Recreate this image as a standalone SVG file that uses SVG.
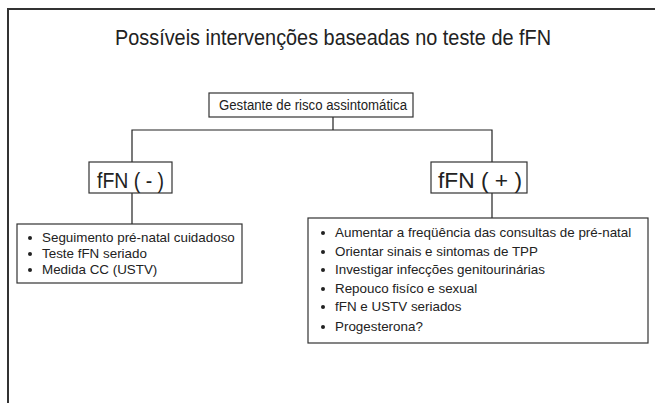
<svg xmlns="http://www.w3.org/2000/svg" width="655" height="403" viewBox="0 0 655 403">
<style>
text{font-family:"Liberation Sans",Arial,sans-serif;fill:#222}
.box{fill:#fff;stroke:#333;stroke-width:1.2}
.ln{fill:none;stroke:#222;stroke-width:1.2}
.it{font-size:13.4px}
.big{font-size:22px}
</style>
<rect width="655" height="403" fill="#fff"/>
<path d="M8,403 V9 H655" fill="none" stroke="#333" stroke-width="2"/>
<text id="title" x="333" y="45" font-size="22" text-anchor="middle" textLength="436" lengthAdjust="spacingAndGlyphs">Possíveis intervenções baseadas no teste de fFN</text>
<g id="connectors">
<path class="ln" d="M333,117 V130 M132,162 V130 H492 V162 M132,193 V224 M492,193 V218"/>
</g>
<g id="root">
<rect class="box" x="209" y="93" width="204" height="24"/>
<text x="219" y="110" font-size="14" textLength="188" lengthAdjust="spacingAndGlyphs">Gestante de risco assintomática</text>
</g>
<g id="neg">
<rect class="box" x="89" y="162" width="83" height="31"/>
<text class="big" x="97" y="188" textLength="67" lengthAdjust="spacingAndGlyphs">fFN ( - )</text>
</g>
<g id="pos">
<rect class="box" x="431" y="162" width="96" height="31"/>
<text class="big" x="438" y="188" textLength="84" lengthAdjust="spacingAndGlyphs">fFN ( + )</text>
</g>
<g id="neg-list">
<rect class="box" x="17" y="224" width="225" height="59"/>
<g fill="#222"><circle cx="30" cy="238" r="2"/><circle cx="30" cy="254" r="2"/><circle cx="30" cy="270" r="2"/></g>
<text class="it" x="42" y="242">Seguimento pré-natal cuidadoso</text>
<text class="it" x="42" y="258">Teste fFN seriado</text>
<text class="it" x="42" y="274">Medida CC (USTV)</text>
</g>
<g id="pos-list">
<rect class="box" x="308" y="218" width="340" height="125"/>
<g fill="#222"><circle cx="323" cy="233" r="2"/><circle cx="323" cy="252" r="2"/><circle cx="323" cy="270" r="2"/><circle cx="323" cy="289" r="2"/><circle cx="323" cy="307" r="2"/><circle cx="323" cy="327" r="2"/></g>
<text class="it" x="335" y="237">Aumentar a freqüência das consultas de pré-natal</text>
<text class="it" x="335" y="256">Orientar sinais e sintomas de TPP</text>
<text class="it" x="335" y="274">Investigar infecções genitourinárias</text>
<text class="it" x="335" y="293">Repouco fisíco e sexual</text>
<text class="it" x="335" y="311">fFN e USTV seriados</text>
<text class="it" x="335" y="331">Progesterona?</text>
</g>
</svg>
